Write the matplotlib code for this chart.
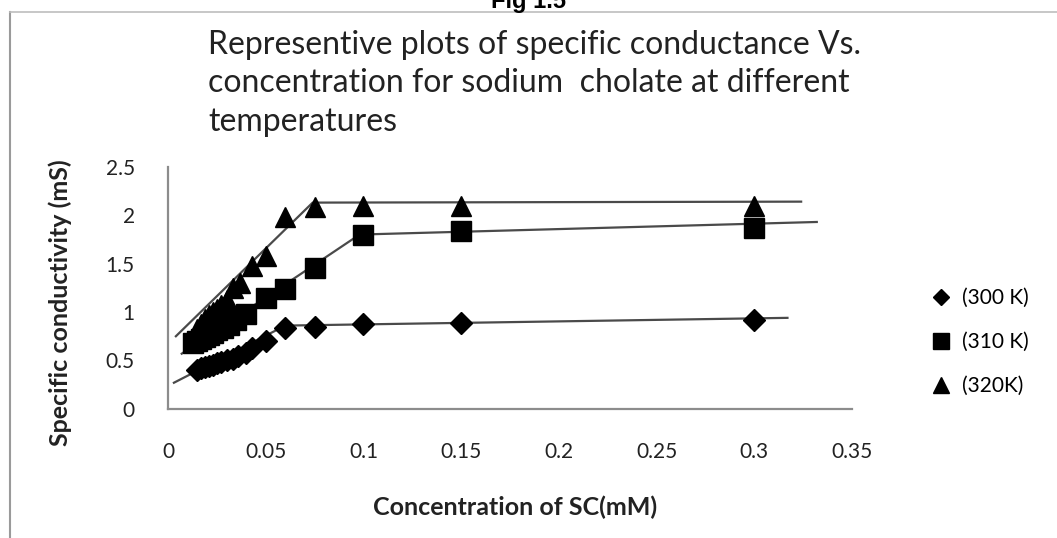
import numpy as np
import matplotlib
matplotlib.use("Agg")
import matplotlib.pyplot as plt
from matplotlib.lines import Line2D

plt.rcParams["font.family"] = ["Lato", "DejaVu Sans"]

# ── data ──────────────────────────────────────────────────────
conc_300 = [0.015, 0.017, 0.019, 0.021, 0.023, 0.025, 0.027, 0.030, 0.033,
            0.036, 0.040, 0.043, 0.050, 0.060, 0.075, 0.100, 0.150, 0.300]
cond_300 = [0.40, 0.42, 0.43, 0.44, 0.45, 0.47, 0.48, 0.50, 0.52,
            0.55, 0.58, 0.63, 0.70, 0.84, 0.85, 0.88, 0.89, 0.92]

conc_310 = [0.013, 0.015, 0.017, 0.019, 0.021, 0.023, 0.025, 0.028, 0.031,
            0.035, 0.040, 0.050, 0.060, 0.075, 0.100, 0.150, 0.300]
cond_310 = [0.68, 0.70, 0.72, 0.74, 0.76, 0.78, 0.81, 0.84, 0.87,
            0.92, 0.98, 1.14, 1.24, 1.45, 1.80, 1.84, 1.87]

conc_320 = [0.015, 0.017, 0.019, 0.021, 0.023, 0.025, 0.027, 0.030, 0.033,
            0.037, 0.043, 0.050, 0.060, 0.075, 0.100, 0.150, 0.300]
cond_320 = [0.82, 0.88, 0.93, 0.97, 1.00, 1.03, 1.07, 1.12, 1.25,
            1.30, 1.48, 1.58, 1.98, 2.08, 2.10, 2.10, 2.10]

# fitted trend lines: end points of the two segments
fit_300_x = [0.003, 0.060, 0.317]
fit_300_y = [0.27, 0.86, 0.94]
fit_310_x = [0.007, 0.098, 0.332]
fit_310_y = [0.57, 1.80, 1.93]
fit_320_x = [0.004, 0.074, 0.324]
fit_320_y = [0.75, 2.13, 2.14]

labels = ["(300 K)", "(310 K)", "(320K)"]
xticks = [0, 0.05, 0.1, 0.15, 0.2, 0.25, 0.3, 0.35]
xtick_labels = ["0", "0.05", "0.1", "0.15", "0.2", "0.25", "0.3", "0.35"]
yticks = [0, 0.5, 1, 1.5, 2, 2.5]
ytick_labels = ["0", "0.5", "1", "1.5", "2", "2.5"]

LINE_C = "#4a4a4a"
TXT_C = "#222222"

fig = plt.figure(figsize=(10.57, 5.38), dpi=100)
ax = fig.add_axes([0.159, 0.240, 0.647, 0.450])

for fx, fy in [(fit_300_x, fit_300_y), (fit_310_x, fit_310_y), (fit_320_x, fit_320_y)]:
    ax.plot(fx, fy, color=LINE_C, lw=1.6, zorder=1)

ax.plot(conc_300, cond_300, ls="none", marker="D", ms=11, color="black",
        label=labels[0], zorder=3)
ax.plot(conc_310, cond_310, ls="none", marker="s", ms=15, color="black",
        label=labels[1], zorder=3)
ax.plot(conc_320, cond_320, ls="none", marker="^", ms=15, color="black",
        label=labels[2], zorder=3)

ax.set_xlim(0, 0.35)
ax.set_ylim(0, 2.5)
ax.set_xticks(xticks)
ax.set_xticklabels(xtick_labels)
ax.set_yticks(yticks)
ax.set_yticklabels(ytick_labels)
ax.tick_params(axis="both", length=0, labelsize=15, colors=TXT_C)
ax.tick_params(axis="x", pad=24)
ax.tick_params(axis="y", pad=24)

for s in ["top", "right"]:
    ax.spines[s].set_visible(False)
for s in ["left", "bottom"]:
    ax.spines[s].set_color("#8c8c8c")
    ax.spines[s].set_linewidth(1.6)

ax.set_xlabel("Concentration of SC(mM)", fontsize=18, fontweight="bold",
              color=TXT_C)
ax.xaxis.set_label_coords(0.508, -0.36)
ax.set_ylabel("Specific conductivity (mS)", fontsize=18, fontweight="bold",
              color=TXT_C)
ax.yaxis.set_label_coords(-0.14, 0.44)

fig.text(0.197, 0.845,
         "Representive plots of specific conductance Vs.\n"
         "concentration for sodium  cholate at different\n"
         "temperatures",
         fontsize=23, ha="left", va="center", linespacing=1.36,
         color=TXT_C)

# legend
handles = [
    Line2D([], [], ls="none", marker="D", ms=8, color="black"),
    Line2D([], [], ls="none", marker="s", ms=11, color="black"),
    Line2D([], [], ls="none", marker="^", ms=11, color="black"),
]
fig.legend(handles, labels, loc="center left", bbox_to_anchor=(0.865, 0.364),
           frameon=False, fontsize=15, handlelength=0.8, handletextpad=0.6,
           labelspacing=1.15)

# outer frame of the original figure + clipped caption
fig.add_artist(Line2D([0.0095, 0.0095], [0.0, 0.978], color="#9a9a9a", lw=1.5))
fig.add_artist(Line2D([0.0095, 1.0], [0.978, 0.978], color="#bdbdbd", lw=1.2))
fig.text(0.50, 0.975, "Fig 1.5", fontsize=17, fontweight="bold",
         ha="center", va="bottom", family="Liberation Sans")

fig.savefig("out.png", dpi=100)
